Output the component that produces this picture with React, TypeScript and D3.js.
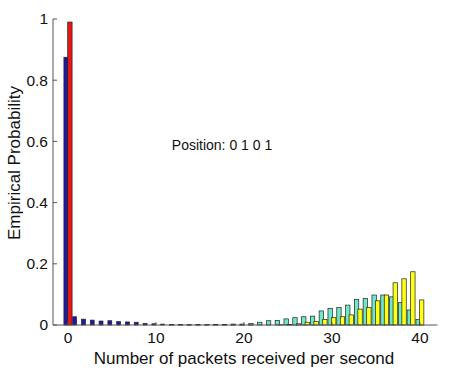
import React from "react";
import * as d3 from "d3";

const categories = [0,1,2,3,4,5,6,7,8,9,10,11,12,13,14,15,16,17,18,19,20,21,22,23,24,25,26,27,28,29,30,31,32,33,34,35,36,37,38,39,40];
const blueVals = [0.875,0.027,0.019,0.016,0.013,0.014,0.011,0.010,0.009,0.005,0.004,0.003,0.002,0.002,0.001,0.002,0.001,0.001,0.001,0.001,0.001,0.001,0,0,0,0,0,0,0,0,0,0,0,0,0,0,0,0,0,0,0];
const redVals = [0.99,0,0,0,0,0,0,0,0,0,0,0,0,0,0,0,0,0,0,0,0,0,0,0,0,0,0,0,0,0,0,0,0,0,0,0,0,0,0,0,0];
const cyanVals = [0,0,0,0,0,0,0,0,0,0,0,0,0.001,0.001,0.001,0.001,0.001,0.002,0.002,0.003,0.003,0.005,0.009,0.014,0.015,0.020,0.024,0.027,0.029,0.046,0.054,0.057,0.065,0.084,0.087,0.098,0.098,0.092,0.073,0.049,0.018];
const yellowVals = [0,0,0,0,0,0,0,0,0,0,0,0,0,0,0,0,0,0,0,0,0,0,0,0,0.001,0.002,0.004,0.009,0.011,0.018,0.024,0.027,0.033,0.052,0.057,0.079,0.098,0.138,0.151,0.174,0.082];
const xTicks = [0, 10, 20, 30, 40];
const yTicks = [0, 0.2, 0.4, 0.6, 0.8, 1];

const W = 455, H = 378;
const x = d3.scaleLinear().domain([-1.7, 42]).range([53, 437.5]);
const y = d3.scaleLinear().domain([0, 1]).range([325, 19]);
const font = "'Liberation Sans', Arial, Helvetica, sans-serif";

const series = [
  { vals: blueVals, color: "#1a1aa6", off: -0.24, w: 0.44 },
  { vals: redVals, color: "#e81616", off: 0.22, w: 0.5 },
  { vals: cyanVals, color: "#6ee8c8", off: -0.2, w: 0.5 },
  { vals: yellowVals, color: "#ffff14", off: 0.2, w: 0.5 },
];

export default function App() {
  const fmt = (v: number) => (v === 0 || v === 1 ? String(v) : d3.format(".1f")(v));
  return (
    <svg width={W} height={H} style={{ position: "absolute", left: 0, top: 0, background: "#fff" }} fontFamily={font}>
      {series.map((s, si) => (
        <g key={si}>
          {categories.map((c, i) =>
            s.vals[i] > 0 ? (
              <rect
                key={i}
                x={x(c + s.off - s.w / 2)}
                y={y(s.vals[i])}
                width={x(c + s.off + s.w / 2) - x(c + s.off - s.w / 2)}
                height={y(0) - y(s.vals[i])}
                fill={s.color}
                stroke="#222"
                strokeWidth={0.7}
              />
            ) : null
          )}
        </g>
      ))}
      <line x1={x.range()[0]} x2={x.range()[1]} y1={y(0)} y2={y(0)} stroke="#555" strokeWidth={1} />
      <line x1={x.range()[0]} x2={x.range()[0]} y1={y(0)} y2={y(1)} stroke="#555" strokeWidth={1} />
      {yTicks.map((t) => (
        <g key={t}>
          <line x1={x.range()[0]} x2={x.range()[0] + 4} y1={y(t)} y2={y(t)} stroke="#555" />
          <text x={x.range()[0] - 5} y={y(t)} dy="0.35em" textAnchor="end" fontSize={15.5} fill="#111">
            {fmt(t)}
          </text>
        </g>
      ))}
      {xTicks.map((t) => (
        <g key={t}>
          <line x1={x(t)} x2={x(t)} y1={y(0)} y2={y(0) - 3} stroke="#555" />
          <text x={x(t)} y={343} textAnchor="middle" fontSize={15.5} fill="#111">
            {t}
          </text>
        </g>
      ))}
      <text x={244} y={364} textAnchor="middle" fontSize={17} fill="#111">
        Number of packets received per second
      </text>
      <text transform="translate(20,163) rotate(-90)" textAnchor="middle" fontSize={17} fill="#111">
        Empirical Probability
      </text>
      <text x={222} y={150} textAnchor="middle" fontSize={14} fill="#111">
        Position: 0 1 0 1
      </text>
    </svg>
  );
}
